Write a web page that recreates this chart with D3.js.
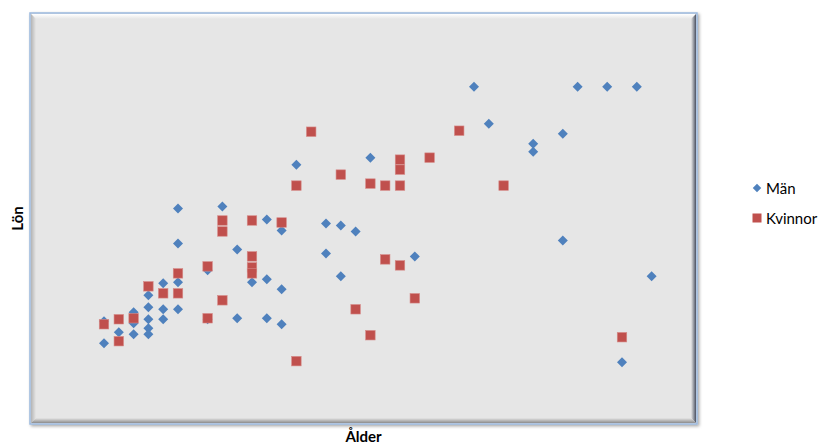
<!DOCTYPE html>
<html lang="sv">
<head>
<meta charset="UTF-8">
<title>Lön och ålder</title>
<script src="https://d3js.org/d3.v7.min.js"></script>
<style>
    body { margin: 0; background: #fff; overflow: hidden; }
    .axis-title { font-family: Lato, "Open Sans", sans-serif; font-size: 15px; font-weight: bold; fill: #000; text-anchor: middle; }
    .legend-label { font-family: Lato, "Open Sans", sans-serif; font-size: 15px; fill: #000; }
</style>
</head>
<body>
<svg id="chart"></svg>
<script>
// ålder (år) och lön (kr) per person
const manAge = [25, 28, 25, 29, 31, 32, 27, 24, 25, 23, 30, 31, 32, 23, 24, 25, 22, 23, 24, 22, 20, 21, 22, 23, 23, 20, 29, 31, 32, 27,
                45, 46, 38, 33, 35, 36, 37, 52, 54, 56, 51, 49, 49, 51, 57, 55, 35, 36, 41];
const manPay = [31500, 31700, 28000, 27400, 30400, 29300, 25300, 24000, 24100, 22800, 24100, 24400, 23400, 21600, 21400, 21400, 21100, 20400, 20400, 20000,
                20200, 19100, 18900, 19500, 18900, 18000, 20500, 20500, 19900, 20400,
                43700, 40000, 36600, 35900, 30000, 29800, 29200, 43700, 43700, 43700, 39000, 38000, 37200, 28300, 24700, 16100, 27000, 24700, 26700];
const womanAge = [33, 28, 28, 30, 32, 30, 30, 30, 27, 25, 23, 24, 25, 28, 27, 22, 21, 20, 21, 33,
                  34, 44, 42, 40, 40, 36, 38, 39, 40, 47, 55, 39, 40, 41, 37, 38];
const womanPay = [33800, 30300, 29200, 30300, 30100, 26700, 25600, 25000, 25700, 25000, 23700, 23000, 23000, 22300, 20500, 20500, 20400, 19900, 18200, 16200,
                  39200, 39300, 36600, 36400, 35400, 34900, 34000, 33800, 33800, 33800, 18600, 26400, 25800, 22500, 21400, 18800];
const seriesNames = ["Män", "Kvinnor"];
const ageDomain = [15, 60];
const payDomain = [10000, 51000];

const width = 822, height = 444;
const plot = { left: 31, top: 14, right: 696, bottom: 423 };

const svg = d3.select("#chart").attr("width", width).attr("height", height);
const defs = svg.append("defs");

const shadow = defs.append("filter").attr("id", "shadow").attr("x", "-5%").attr("y", "-5%").attr("width", "110%").attr("height", "110%");
shadow.append("feDropShadow").attr("dx", 1.5).attr("dy", 1.5).attr("stdDeviation", 1.5).attr("flood-color", "#000").attr("flood-opacity", 0.35);

function grad(id, x1, y1, x2, y2, stops) {
    const g = defs.append("linearGradient").attr("id", id)
        .attr("x1", x1).attr("y1", y1).attr("x2", x2).attr("y2", y2);
    stops.forEach(([o, c]) => g.append("stop").attr("offset", o).attr("stop-color", c));
}
grad("bevTop", 0, 0, 0, 1, [[0, "#ffffff"], [1, "#e6e6e6"]]);
grad("bevLeft", 0, 0, 1, 0, [[0, "#b4b4b4"], [1, "#e6e6e6"]]);
grad("bevRight", 0, 0, 1, 0, [[0, "#e6e6e6"], [0.5, "#9a9ea6"], [1, "#4a5060"]]);
grad("bevBottom", 0, 0, 0, 1, [[0, "#e6e6e6"], [1, "#8c8c8c"]]);

const pw = plot.right - plot.left, ph = plot.bottom - plot.top;
const frame = svg.append("g");
frame.append("rect")
    .attr("x", plot.left - 1).attr("y", plot.top - 1)
    .attr("width", pw + 2).attr("height", ph + 2)
    .attr("fill", "#e6e6e6").attr("stroke", "#9cb9de").attr("stroke-width", 1.5)
    .attr("filter", "url(#shadow)");
const bev = 5;
frame.append("path").attr("fill", "url(#bevTop)")
    .attr("d", `M${plot.left},${plot.top}H${plot.right}L${plot.right - bev},${plot.top + bev}H${plot.left + bev}Z`);
frame.append("path").attr("fill", "url(#bevLeft)")
    .attr("d", `M${plot.left},${plot.top}L${plot.left + bev},${plot.top + bev}V${plot.bottom - bev}L${plot.left},${plot.bottom}Z`);
frame.append("path").attr("fill", "url(#bevRight)")
    .attr("d", `M${plot.right},${plot.top}L${plot.right - bev},${plot.top + bev}V${plot.bottom - bev}L${plot.right},${plot.bottom}Z`);
frame.append("path").attr("fill", "url(#bevBottom)")
    .attr("d", `M${plot.left},${plot.bottom}L${plot.left + bev},${plot.bottom - bev}H${plot.right - bev}L${plot.right},${plot.bottom}Z`);

const x = d3.scaleLinear().domain(ageDomain).range([plot.left - 1, plot.right]);
const y = d3.scaleLinear().domain(payDomain).range([plot.bottom, plot.top]);

const men = manAge.map((a, i) => ({ age: a, pay: manPay[i] }));
const women = womanAge.map((a, i) => ({ age: a, pay: womanPay[i] }));

const diamond = d3.symbol().type(d3.symbolSquare).size(50)();
const colors = ["#4f81bd", "#c0504d"];

svg.append("g").selectAll("path")
    .data(men)
    .join("path")
    .attr("d", diamond)
    .attr("transform", d => `translate(${x(d.age)},${y(d.pay)}) rotate(45)`)
    .attr("fill", colors[0]);

svg.append("g").selectAll("rect")
    .data(women)
    .join("rect")
    .attr("x", d => x(d.age) - 4.75)
    .attr("y", d => y(d.pay) - 4.75)
    .attr("width", 9.5).attr("height", 9.5)
    .attr("fill", colors[1])
    .attr("stroke", "#d68a88").attr("stroke-width", 0.6);

svg.append("text").attr("class", "axis-title")
    .attr("transform", `translate(23,${(plot.top + plot.bottom) / 2}) rotate(-90)`)
    .text("Lön");
svg.append("text").attr("class", "axis-title")
    .attr("x", (plot.left + plot.right) / 2).attr("y", 442)
    .text("Ålder");

const legend = svg.append("g").attr("transform", "translate(757,188)");
legend.append("path").attr("d", d3.symbol().type(d3.symbolSquare).size(36)())
    .attr("transform", "rotate(45)").attr("fill", colors[0]);
legend.append("rect").attr("x", -4.5).attr("y", 25.5).attr("width", 9).attr("height", 9).attr("fill", colors[1]);
legend.selectAll("text")
    .data(seriesNames)
    .join("text")
    .attr("class", "legend-label")
    .attr("x", 9)
    .attr("y", (d, i) => i * 30 + 5.5)
    .text(d => d);
</script>
</body>
</html>
